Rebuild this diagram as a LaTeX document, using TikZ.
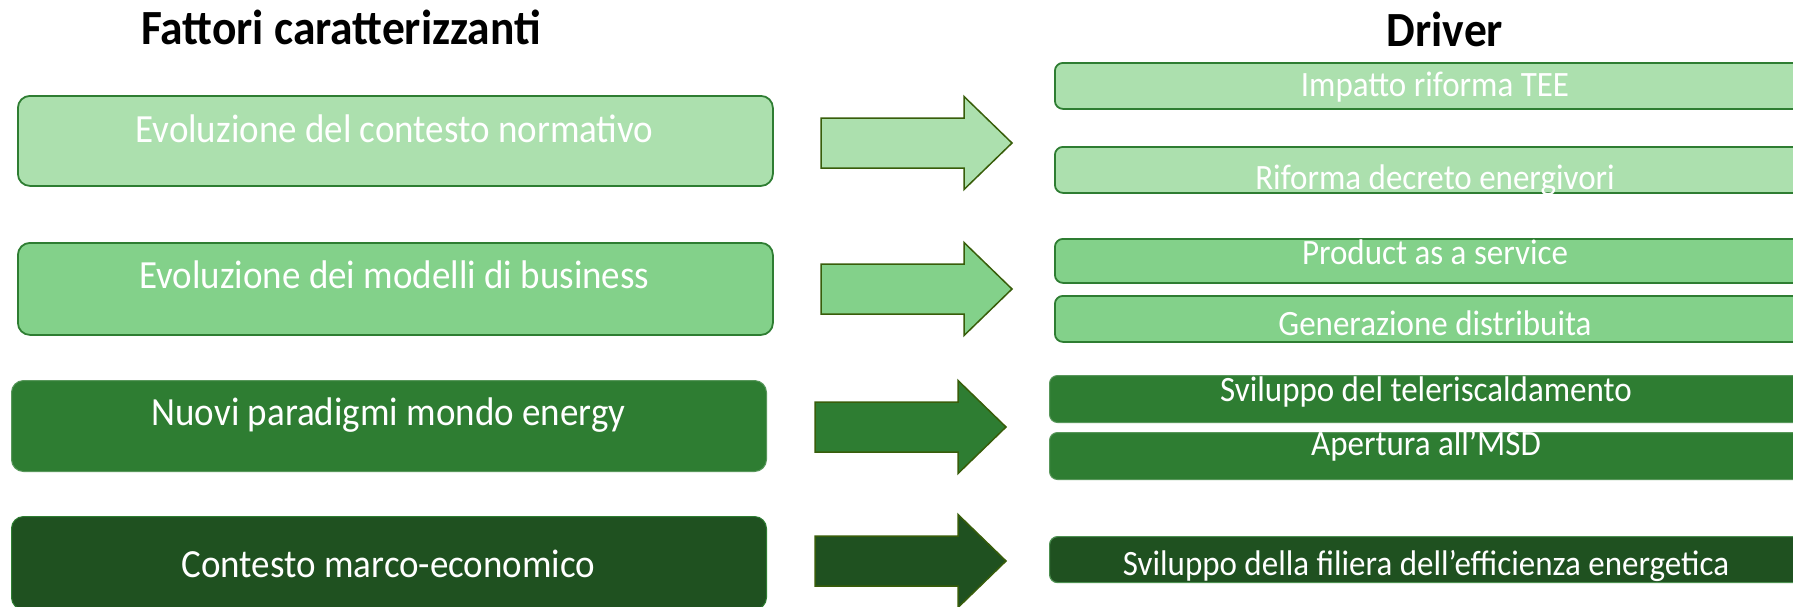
\documentclass[tikz,border=0pt]{standalone}
\usepackage{graphicx}
\usepackage{fontspec}
\setmainfont{Carlito}
\definecolor{gA}{HTML}{ACE0AE}
\definecolor{gB}{HTML}{83D18A}
\definecolor{gC}{HTML}{2E7D32}
\definecolor{gD}{HTML}{1F5120}
\definecolor{edgeG}{HTML}{2E7D32}
\definecolor{arrowEdge}{HTML}{385D0A}
\newcommand\vtxt[1]{\scalebox{1}[1.08]{#1}}
\begin{document}
\begin{tikzpicture}[x=1pt,y=-1pt,
  lbox/.style={rectangle, rounded corners=12pt, inner sep=0pt, anchor=north west,
    minimum width=755pt, line width=1.8pt},
  rbox/.style={rectangle, rounded corners=8pt, inner sep=0pt, anchor=north west,
    minimum width=762pt, line width=1.8pt},
  ltext/.style={anchor=base, text=white, inner sep=0pt, font=\fontsize{37}{44}\selectfont},
  rtext/.style={anchor=base, text=white, inner sep=0pt, font=\fontsize{33}{40}\selectfont},
  ttl/.style={anchor=base, inner sep=0pt, font=\bfseries\fontsize{45.5}{52}\selectfont},
  barrow/.style={line width=1.5pt, draw=arrowEdge, line join=miter}
]
\useasboundingbox (0,0) rectangle (1793,606);
\clip (0,0) rectangle (1793,606);

% titles
\node[ttl] (t1) at (341,44) {\vtxt{Fattori caratterizzanti}};
\node[ttl] (t2) at (1445,46) {\vtxt{Driver}};

% left boxes
\node[lbox, fill=gA, draw=edgeG, minimum height=90pt] (b1) at (17,95) {};
\node[ltext] (b1t) at (394.5,142) {\vtxt{Evoluzione del contesto normativo}};
\node[lbox, fill=gB, draw=edgeG, minimum height=92pt] (b2) at (17,242) {};
\node[ltext] (b2t) at (394.5,288) {\vtxt{Evoluzione dei modelli di business}};
\node[lbox, fill=gC, draw=gC!80!white, line width=1pt, minimum height=91pt] (b3) at (11,380) {};
\node[ltext] (b3t) at (388.5,425) {\vtxt{Nuovi paradigmi mondo energy}};
\node[lbox, fill=gD, draw=gC, line width=1pt, minimum height=93pt] (b4) at (11,516) {};
\node[ltext] (b4t) at (388.5,577) {\vtxt{Contesto marco-economico}};

% block arrows
\newcommand\blockarrow[3]{%
  \draw[barrow, fill=#3] (#1,#2-25) -- ++(143,0) -- ++(0,-21.5) -- ++(48,46.5)
    -- ++(-48,46.5) -- ++(0,-21.5) -- ++(-143,0) -- cycle;}
\blockarrow{821}{143}{gA}
\blockarrow{821}{289}{gB}
\blockarrow{815}{427}{gC}
\blockarrow{815}{561}{gD}

% right boxes
\node[rbox, fill=gA, draw=edgeG, minimum height=46pt] (r1) at (1054,62) {};
\node[rtext] (r1t) at (1435,96) {\vtxt{Impatto riforma TEE}};
\node[rbox, fill=gA, draw=edgeG, minimum height=46pt] (r2) at (1054,146) {};
\node[rtext] (r2t) at (1435,189) {\vtxt{Riforma decreto energivori}};
\node[rbox, fill=gB, draw=edgeG, minimum height=44pt] (r3) at (1054,238) {};
\node[rtext] (r3t) at (1435,264) {\vtxt{Product as a service}};
\node[rbox, fill=gB, draw=edgeG, minimum height=46pt] (r4) at (1054,295) {};
\node[rtext] (r4t) at (1435,335) {\vtxt{Generazione distribuita}};
\node[rbox, fill=gC, draw=gC!80!white, line width=1pt, minimum height=47pt] (r5) at (1049,375) {};
\node[rtext] (r5t) at (1426,401) {\vtxt{Sviluppo del teleriscaldamento}};
\node[rbox, fill=gC, draw=gC!80!white, line width=1pt, minimum height=47pt] (r6) at (1049,432) {};
\node[rtext] (r6t) at (1426,455) {\vtxt{Apertura all’MSD}};
\node[rbox, fill=gD, draw=gC!85!white, line width=1.2pt, minimum height=46pt] (r7) at (1049,536) {};
\node[rtext] (r7t) at (1426,575) {\vtxt{Sviluppo della filiera dell’efficienza energetica}};
\end{tikzpicture}
\end{document}
